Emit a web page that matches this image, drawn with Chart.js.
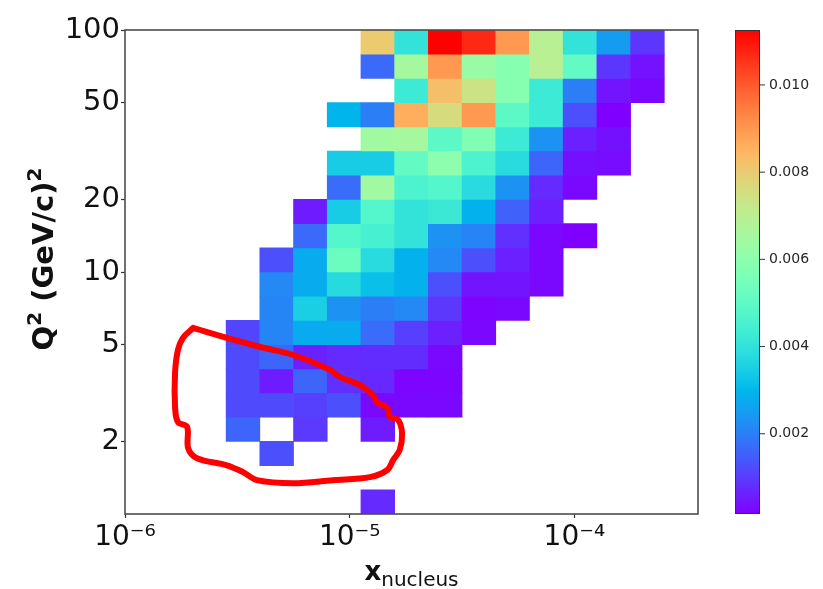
<!DOCTYPE html>
<html>
<head>
<meta charset="utf-8">
<script src="https://cdn.jsdelivr.net/npm/chart.js@4/dist/chart.umd.min.js"></script>
<style>
  html, body { margin: 0; padding: 0; background: #ffffff; }
  #wrap { width: 823px; height: 589px; position: relative; }
</style>
</head>
<body>
<div id="wrap"><canvas id="chart" width="823" height="589"></canvas></div>
<script>
// log10 edges of the x_nucleus bins (one column between each pair of edges)
const xEdgeExp = [-5.55, -5.40, -5.25, -5.10, -4.95, -4.80, -4.65, -4.50, -4.35, -4.20, -4.05, -3.90, -3.75, -3.60];
// log10 edges of the Q² bins, bottom to top
const q2EdgeExp = [0.0, 0.1, 0.2, 0.3, 0.4, 0.5, 0.6, 0.7, 0.8, 0.9, 1.0,
                   1.1, 1.2, 1.3, 1.4, 1.5, 1.6, 1.7, 1.8, 1.9, 2.0];

// normalised yield per Q² bin (bottom bin first), one entry per x column; null = empty bin
const q2Row00 = [null, null, null, null, 0.00075, null, null, null, null, null, null, null, null];
const q2Row01 = [null, null, null, null, null, null, null, null, null, null, null, null, null];
const q2Row02 = [null, 0.00127, null, null, null, null, null, null, null, null, null, null, null];
const q2Row03 = [0.00160, null, 0.00096, null, 0.00055, null, null, null, null, null, null, null, null];
const q2Row04 = [0.00121, 0.00121, 0.00105, 0.00127, 0.00027, 0.00027, 0.00027, null, null, null, null, null, null];
const q2Row05 = [0.00121, 0.00055, 0.00160, 0.00083, 0.00072, 0.00022, 0.00022, null, null, null, null, null, null];
const q2Row06 = [0.00121, 0.00160, 0.00060, 0.00075, 0.00077, 0.00077, 0.00027, null, null, null, null, null, null];
const q2Row07 = [0.00113, 0.00210, 0.00277, 0.00277, 0.00171, 0.00105, 0.00060, 0.00027, null, null, null, null, null];
const q2Row08 = [null, 0.00210, 0.00349, 0.00232, 0.00199, 0.00216, 0.00094, 0.00022, 0.00027, null, null, null, null];
const q2Row09 = [null, 0.00216, 0.00277, 0.00377, 0.00316, 0.00288, 0.00127, 0.00044, 0.00044, 0.00027, null, null, null];
const q2Row10 = [null, 0.00127, 0.00277, 0.00527, 0.00382, 0.00288, 0.00216, 0.00127, 0.00060, 0.00027, null, null, null];
const q2Row11 = [null, null, 0.00166, 0.00477, 0.00449, 0.00405, 0.00232, 0.00208, 0.00083, 0.00027, 0.00016, null, null];
const q2Row12 = [null, null, 0.00055, 0.00343, 0.00477, 0.00405, 0.00421, 0.00288, 0.00155, 0.00060, null, null, null];
const q2Row13 = [null, null, null, 0.00171, 0.00643, 0.00460, 0.00477, 0.00382, 0.00232, 0.00075, 0.00027, null, null];
const q2Row14 = [null, null, null, 0.00343, 0.00343, 0.00510, 0.00599, 0.00460, 0.00382, 0.00160, 0.00038, 0.00033, null];
const q2Row15 = [null, null, null, null, 0.00643, 0.00654, 0.00493, 0.00571, 0.00427, 0.00232, 0.00060, 0.00038, null];
const q2Row16 = [null, null, null, 0.00294, 0.00199, 0.00860, 0.00760, 0.00898, 0.00493, 0.00427, 0.00127, 0.00016, null];
const q2Row17 = [null, null, null, null, null, 0.00427, 0.00826, 0.00738, 0.00588, 0.00427, 0.00199, 0.00044, 0.00027];
const q2Row18 = [null, null, null, null, 0.00166, 0.00654, 0.00898, 0.00627, 0.00588, 0.00693, 0.00510, 0.00091, 0.00040];
const q2Row19 = [null, null, null, null, 0.00804, 0.00405, 0.01126, 0.01071, 0.00898, 0.00693, 0.00405, 0.00249, 0.00091];

const q2Rows = [q2Row00, q2Row01, q2Row02, q2Row03, q2Row04, q2Row05, q2Row06, q2Row07, q2Row08, q2Row09,
                q2Row10, q2Row11, q2Row12, q2Row13, q2Row14, q2Row15, q2Row16, q2Row17, q2Row18, q2Row19];

// axis ticks
const xTickValues = [1e-6, 1e-5, 1e-4];
const xTickLabels = ['10\u207B\u2076', '10\u207B\u2075', '10\u207B\u2074'];
const q2TickValues = [2, 5, 10, 20, 50, 100];
const q2TickLabels = ['2', '5', '10', '20', '50', '100'];
const cbarTickValues = [0.002, 0.004, 0.006, 0.008, 0.010];
const cbarTickLabels = ['0.002', '0.004', '0.006', '0.008', '0.010'];

// hand-drawn outline around the low-Q² region (x_nucleus, Q²)
const loopX  = [2.01e-6, 2.84e-6, 3.99e-6, 5.60e-6, 8.17e-6, 9.06e-6, 1.11e-5, 1.27e-5, 1.32e-5, 1.47e-5,
                1.51e-5, 1.64e-5, 1.71e-5, 1.67e-5, 1.56e-5, 1.47e-5, 1.23e-5, 8.43e-6, 5.60e-6, 3.87e-6,
                3.35e-6, 2.84e-6, 2.09e-6, 1.91e-6, 1.89e-6, 1.72e-6, 1.67e-6, 1.67e-6, 1.72e-6, 1.81e-6, 2.01e-6];
const loopQ2 = [5.87, 5.34, 4.90, 4.54, 3.94, 3.68, 3.41, 3.10, 2.90, 2.74,
                2.52, 2.45, 2.16, 1.84, 1.67, 1.52, 1.42, 1.38, 1.34, 1.38,
                1.49, 1.59, 1.70, 1.87, 2.29, 2.40, 2.77, 3.83, 4.76, 5.34, 5.87];

const FONT = '"DejaVu Sans", "Liberation Sans", sans-serif';

// matplotlib "rainbow" colormap
function rainbow(t) {
  t = Math.max(0, Math.min(1, t));
  const r = Math.min(1, Math.abs(2 * t - 0.5));
  const g = Math.sin(Math.PI * t);
  const b = Math.cos(Math.PI * t / 2);
  return 'rgb(' + Math.round(r * 255) + ',' + Math.round(g * 255) + ',' + Math.round(b * 255) + ')';
}

const allValues = q2Rows.flat().filter(v => v !== null);
const colorMin = Math.min(...allValues);
const colorMax = Math.max(...allValues);

const cells = [];
const cellColors = [];
q2Rows.forEach((row, r) => {
  row.forEach((v, c) => {
    if (v === null) return;
    cells.push({
      x: Math.pow(10, (xEdgeExp[c] + xEdgeExp[c + 1]) / 2),
      y: [Math.pow(10, q2EdgeExp[r]), Math.pow(10, q2EdgeExp[r + 1])]
    });
    cellColors.push(rainbow((v - colorMin) / (colorMax - colorMin)));
  });
});

const loopPoints = loopX.map((x, i) => ({ x: x, y: loopQ2[i] }));

// text made of pieces, each with its own size, weight and baseline shift
function drawPieces(ctx, pieces, x, y) {
  let cx = x;
  pieces.forEach(p => {
    ctx.font = p.font;
    ctx.fillText(p.text, cx, y - (p.rise || 0));
    cx += ctx.measureText(p.text).width;
  });
}
function piecesWidth(ctx, pieces) {
  let w = 0;
  pieces.forEach(p => { ctx.font = p.font; w += ctx.measureText(p.text).width; });
  return w;
}

const yTitlePieces = [
  { text: 'Q', font: 'bold 29px ' + FONT },
  { text: '2', font: 'bold 20px ' + FONT, rise: 12 },
  { text: ' (GeV/c)', font: 'bold 29px ' + FONT },
  { text: '2', font: 'bold 20px ' + FONT, rise: 12 }
];
const xTitlePieces = [
  { text: 'x', font: 'bold 26px ' + FONT },
  { text: 'nucleus', font: '20px ' + FONT, rise: -6 }
];

// frame, colour bar and axis titles
const decorPlugin = {
  id: 'decor',
  afterDraw(chart) {
    const ctx = chart.ctx;
    const a = chart.chartArea;
    ctx.save();

    // axes frame
    ctx.strokeStyle = '#4d4d4d';
    ctx.lineWidth = 1.6;
    ctx.strokeRect(a.left, a.top, a.right - a.left, a.bottom - a.top);

    // colour bar
    const cbL = a.right + 37, cbW = 25;
    const grad = ctx.createLinearGradient(0, a.bottom, 0, a.top);
    for (let i = 0; i <= 64; i++) grad.addColorStop(i / 64, rainbow(i / 64));
    ctx.fillStyle = grad;
    ctx.fillRect(cbL, a.top, cbW, a.bottom - a.top);
    ctx.strokeStyle = '#333333';
    ctx.lineWidth = 1;
    ctx.strokeRect(cbL + 0.5, a.top + 0.5, cbW - 1, a.bottom - a.top - 1);
    ctx.fillStyle = '#262626';
    ctx.font = '14px ' + FONT;
    ctx.textAlign = 'left';
    ctx.textBaseline = 'middle';
    cbarTickValues.forEach((t, i) => {
      const y = a.bottom - (t - colorMin) / (colorMax - colorMin) * (a.bottom - a.top);
      ctx.beginPath();
      ctx.moveTo(cbL + cbW, y);
      ctx.lineTo(cbL + cbW + 5, y);
      ctx.stroke();
      ctx.fillText(cbarTickLabels[i], cbL + cbW + 9, y);
    });

    ctx.fillStyle = '#111111';
    ctx.textBaseline = 'alphabetic';
    ctx.textAlign = 'left';

    // x-axis title
    const wx = piecesWidth(ctx, xTitlePieces);
    drawPieces(ctx, xTitlePieces, (a.left + a.right) / 2 - wx / 2, 580);

    // y-axis title, rotated
    const wy = piecesWidth(ctx, yTitlePieces);
    ctx.translate(53, 259);
    ctx.rotate(-Math.PI / 2);
    drawPieces(ctx, yTitlePieces, -wy / 2, 0);

    ctx.restore();
  }
};

const tickGrid = {
  display: true, drawOnChartArea: false, drawTicks: true,
  tickLength: 4, tickWidth: 1.2, color: '#333333', offset: false
};

new Chart(document.getElementById('chart'), {
  type: 'bar',
  data: {
    datasets: [
      {
        type: 'line',
        data: loopPoints,
        borderColor: '#ff0000',
        borderWidth: 6,
        borderCapStyle: 'round',
        borderJoinStyle: 'round',
        pointRadius: 0,
        tension: 0.35,
        fill: false,
        order: 0
      },
      {
        type: 'bar',
        data: cells,
        backgroundColor: cellColors,
        borderWidth: 0,
        barPercentage: 1,
        categoryPercentage: 1,
        order: 1
      }
    ]
  },
  options: {
    responsive: false,
    animation: false,
    events: [],
    layout: { padding: { left: 0, top: 30, right: 125, bottom: 0 } },
    plugins: { legend: { display: false }, tooltip: { enabled: false } },
    scales: {
      x: {
        type: 'logarithmic',
        min: 1e-6,
        max: Math.pow(10, -3.45),
        offset: false,
        grid: tickGrid,
        border: { display: false },
        afterBuildTicks: s => { s.ticks = xTickValues.map(v => ({ value: v })); },
        afterFit: s => { s.height = 75; },
        ticks: {
          autoSkip: false, maxRotation: 0, minRotation: 0, padding: 3,
          color: '#111111', font: { family: FONT, size: 28 },
          callback: (v, i) => xTickLabels[i]
        }
      },
      y: {
        type: 'logarithmic',
        min: 1,
        max: 100,
        offset: false,
        grid: tickGrid,
        border: { display: false },
        afterBuildTicks: s => { s.ticks = q2TickValues.map(v => ({ value: v })); },
        afterFit: s => { s.width = 125; },
        ticks: {
          autoSkip: false, padding: 1,
          color: '#111111', font: { family: FONT, size: 29 },
          callback: (v, i) => q2TickLabels[i]
        }
      }
    }
  },
  plugins: [decorPlugin]
});
</script>
</body>
</html>
